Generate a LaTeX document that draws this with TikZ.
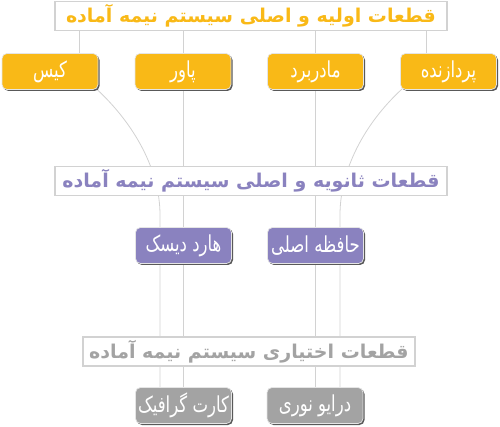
\documentclass[tikz,border=0pt]{standalone}
\usepackage{fontspec}
\usepackage{tikz}
\usetikzlibrary{shadows,backgrounds}
\TeXXeTstate=1
\newfontfamily\arabicfont[Script=Arabic]{DejaVu Sans}
\newfontfamily\labelfont[Script=Arabic,FakeStretch=0.75]{DejaVu Sans}

\definecolor{partorange}{HTML}{F9B917}
\definecolor{partpurple}{HTML}{8A82BF}
\definecolor{partgray}{HTML}{A3A3A3}
\definecolor{linegray}{HTML}{D2D2D2}

\begin{document}
\begin{tikzpicture}[x=1pt,y=-1pt,
  titlebox/.style={draw=linegray,line width=1.2pt,fill=white,inner sep=0pt,
    minimum height=29pt,font=\arabicfont\bfseries\fontsize{19}{21}\selectfont},
  partbox/.style={draw=white!90!black,line width=0.7pt,rounded corners=5pt,
    minimum width=96pt,minimum height=36pt,inner sep=0pt,text=white,
    font=\labelfont\fontsize{22}{24}\selectfont,
    general shadow={shadow xshift=1.5pt,shadow yshift=-1.5pt,fill=black!65}},
  link/.style={draw=linegray,line width=0.8pt}]
  \useasboundingbox (0,0) rectangle (500,427);

  \node[titlebox,minimum width=392pt,text=partorange] (basic) at (251,16) {\beginR قطعات اولیه و اصلی سیستم نیمه آماده\endR};
  \node[partbox,fill=partorange] (case) at (50,71.5) {\beginR کیس\endR};
  \node[partbox,fill=partorange] (power) at (183,71.5) {\beginR پاور\endR};
  \node[partbox,fill=partorange] (board) at (315.5,71.5) {\beginR مادربرد\endR};
  \node[partbox,fill=partorange] (cpu) at (448.5,71.5) {\beginR پردازنده\endR};

  \node[titlebox,minimum width=392pt,text=partpurple] (second) at (251,181) {\beginR قطعات ثانویه و اصلی سیستم نیمه آماده\endR};
  \node[partbox,fill=partpurple] (disk) at (183.5,245.5) {\beginR هارد دیسک\endR};
  \node[partbox,fill=partpurple] (ram) at (315.5,245.5) {\beginR حافظه اصلی\endR};

  \node[titlebox,minimum width=332pt,text=partgray] (extra) at (249,351.5) {\beginR قطعات اختیاری سیستم نیمه آماده\endR};
  \node[partbox,fill=partgray] (vga) at (183.5,405.5) {\beginR کارت گرافیک\endR};
  \node[partbox,fill=partgray] (drive) at (315,405.5) {\beginR درایو نوری\endR};

  \coordinate (left) at (79,0);
  \coordinate (right) at (426,0);
  \begin{scope}[on background layer]
    \draw[link] (left |- basic.south) -- (left |- case.north);
    \draw[link] (right |- basic.south) -- (right |- cpu.north);
    \draw[link] (power.north |- basic.south) -- (power.south);
    \draw[link] (power.south) -- (vga.north -| power.south);
    \draw[link] (board.north |- basic.south) -- (board.south);
    \draw[link] (board.south) -- (drive.north -| board.south);
    % side branches bend in towards the lower boxes
    \draw[link] ([shift={(-2,-1)}]case.south east) .. controls +(38,35) and (160,170) .. (160,215) -- (vga.north -| 160,0);
    \draw[link] ([shift={(2,-1)}]cpu.south west) .. controls +(-38,35) and (340,170) .. (340,215) -- (drive.north -| 340,0);
  \end{scope}
\end{tikzpicture}
\end{document}
